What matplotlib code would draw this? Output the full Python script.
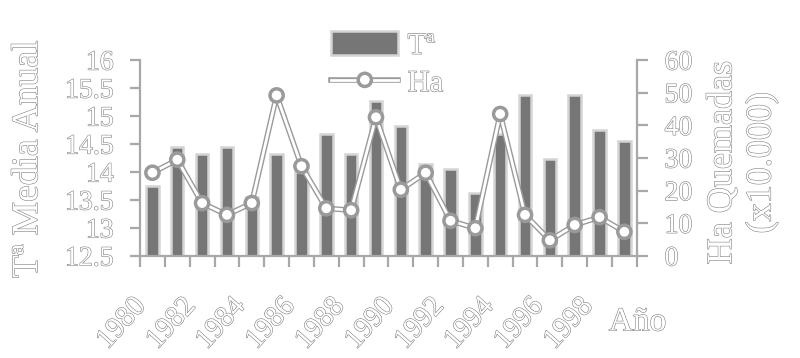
import numpy as np
import matplotlib
matplotlib.use("Agg")
import matplotlib.pyplot as plt
import matplotlib.patheffects as pe
from matplotlib.lines import Line2D
from matplotlib.patches import Patch
from matplotlib.transforms import ScaledTranslation

# datos
anios = list(range(1980, 2000))
temp_media = [13.75, 14.45, 14.33, 14.45, 13.55, 14.33, 14.0, 14.68, 14.33, 15.27,
              14.83, 14.15, 14.06, 13.62, 14.68, 15.37, 14.23, 15.37, 14.76, 14.56]
ha_quemadas = [25.5, 29.5, 16.2, 12.6, 16.2, 49.2, 27.5, 14.6, 14.0, 42.5,
               20.3, 25.5, 10.8, 8.5, 43.5, 12.6, 4.8, 9.5, 11.9, 7.4]
etiquetas_x = [str(a) if a % 2 == 0 else "" for a in anios]

plt.rcParams['font.family'] = ['Liberation Serif', 'DejaVu Serif']

# efecto "relieve": texto blanco con contorno gris
relieve = [pe.withStroke(linewidth=0.8, foreground='#808080')]
gris_eje = '#a8a8a8'
efecto_linea = [pe.withStroke(linewidth=4, foreground='#9a9a9a')]

fig = plt.figure(figsize=(8, 3.58), dpi=100)
ax = fig.add_axes([0.175, 0.285, 0.621, 0.547])
ax2 = ax.twinx()

x = np.arange(len(anios))
ax.bar(x, [t - 12.5 for t in temp_media], bottom=12.5, width=0.5,
       color='#767676', edgecolor='#d4d4d4', linewidth=1.8, zorder=2)

ax2.plot(x, ha_quemadas, color='white', lw=2.0, marker='o', ms=8,
         mfc='white', mec='#9a9a9a', mew=1.0, path_effects=efecto_linea)

ax.set_xlim(-0.5, len(anios) - 0.5)
ax.set_ylim(12.5, 16)
ax2.set_ylim(0, 60)
ax.set_yticks(np.arange(12.5, 16.01, 0.5))
ax.set_yticklabels(["12.5", "13", "13.5", "14", "14.5", "15", "15.5", "16"])
ax2.set_yticks(range(0, 61, 10))

for a in (ax, ax2):
    for s in a.spines.values():
        s.set_visible(False)
ax.spines['left'].set_visible(True)
ax.spines['bottom'].set_visible(True)
ax2.spines['right'].set_visible(True)
for s in (ax.spines['left'], ax.spines['bottom'], ax2.spines['right']):
    s.set_color(gris_eje)
    s.set_linewidth(1.6)

ax.set_xticks(x)
ax.set_xticklabels(etiquetas_x, rotation=48, ha='right', va='center',
                   rotation_mode='anchor')
ax.set_xticks(np.arange(-0.5, len(anios), 1), minor=True)
ax.tick_params(axis='x', which='major', length=0, pad=33, labelsize=21)
ax.tick_params(axis='x', which='minor', length=8, width=1.6, color=gris_eje, direction='out')
ax.tick_params(axis='y', length=7, width=1.6, color=gris_eje, pad=12, labelsize=20)
ax2.tick_params(axis='y', length=8, width=1.6, color=gris_eje, pad=12, labelsize=20)

desplaza = ScaledTranslation(-0.11, 0, fig.dpi_scale_trans)
for t in ax.get_xticklabels():
    t.set_transform(t.get_transform() + desplaza)

for t in ax.get_xticklabels() + ax.get_yticklabels() + ax2.get_yticklabels():
    t.set_color('white')
    t.set_path_effects(relieve)

fig.text(0.035, 0.555, "Tª Media Anual", rotation=90, ha='center', va='center',
         fontsize=27, color='white', path_effects=relieve)
fig.text(0.928, 0.545, "Ha Quemadas\n(x10.000)", rotation=90, ha='center', va='center',
         fontsize=26, color='white', path_effects=relieve, linespacing=1.25)
fig.text(0.797, 0.10, "Año", ha='center', va='center', fontsize=24,
         color='white', path_effects=relieve)

manejadores = [Patch(facecolor='#767676', edgecolor='#d4d4d4', linewidth=1.8),
               Line2D([0], [0], color='white', lw=2.0, marker='o', ms=8, mfc='white',
                      mec='#9a9a9a', path_effects=efecto_linea)]
ley = fig.legend(manejadores, ["Tª", "Ha"], loc='upper center', bbox_to_anchor=(0.484, 0.99),
                 frameon=False, fontsize=22, handlelength=2.2, handleheight=0.85,
                 labelspacing=0.25, handletextpad=0.3)
for t in ley.get_texts():
    t.set_color('white')
    t.set_path_effects(relieve)

fig.savefig("out.png", dpi=100, facecolor='white')
